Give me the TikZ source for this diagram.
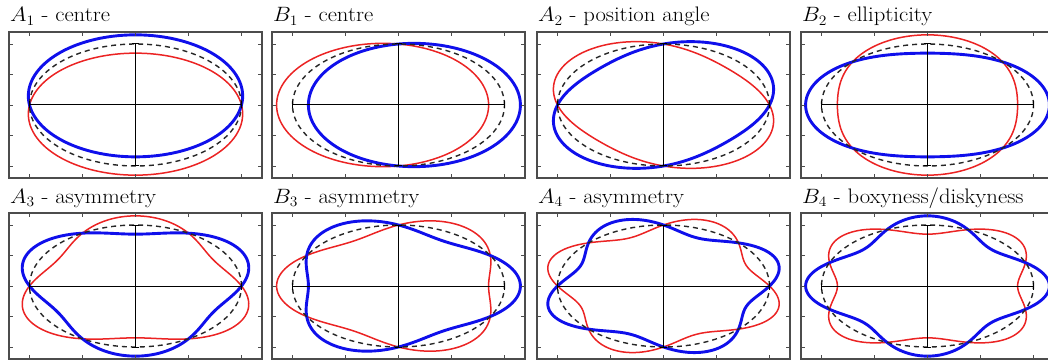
\documentclass[tikz,border=0pt]{standalone}
\usepackage{graphicx}
\definecolor{cred}{RGB}{235,35,35}
\definecolor{cblue}{RGB}{15,15,235}
\tikzset{
  frame/.style={draw=black!70, line width=1.1pt},
  tickmark/.style={draw=black!70, line width=0.9pt},
  axisline/.style={draw=black, line width=1pt},
  refline/.style={draw=black!85, line width=1.4pt, dash pattern=on 5pt off 4pt},
  bluecurve/.style={draw=cblue, line width=2.9pt, line join=round},
  redcurve/.style={draw=cred, line width=1.5pt, line join=round},
  paneltitle/.style={anchor=base west, inner sep=0pt}
}
\newcommand\ttl[1]{{\fontsize{21}{24}\selectfont\scalebox{1.08}[1]{#1}}}
\newcommand\isopanel[5]{%
  \begin{scope}[shift={(#1,#2)}]
    \draw[redcurve] plot[domain=0:360, samples=241, variable=\t]
      ({106*(1-0.15*(#5))*cos(\t)},{61*(1-0.15*(#5))*sin(\t)}) -- cycle;
    \draw[bluecurve] plot[domain=0:360, samples=241, variable=\t]
      ({106*(1+0.15*(#5))*cos(\t)},{61*(1+0.15*(#5))*sin(\t)}) -- cycle;
    \draw[refline] (0,0) ellipse [x radius=106, y radius=61];
    \draw[axisline] (-106,0) -- (106,0) (0,-61) -- (0,61)
      (-106,-3.5) -- (-106,3.5) (106,-3.5) -- (106,3.5)
      (-3.5,61) -- (3.5,61) (-3.5,-61) -- (3.5,-61);
    \draw[frame] (-126.5,-73) rectangle (126.5,73);
    \foreach \u in {-106,-53,0,53,106} {\draw[tickmark] (\u,-73) -- ++(0,4) (\u,73) -- ++(0,-4);}
    \foreach \v in {-61,-30.5,0,30.5,61} {\draw[tickmark] (-126.5,\v) -- ++(4,0) (126.5,\v) -- ++(-4,0);}
    \node[paneltitle] (#3) at (-125.5,83) {\ttl{#4}};
  \end{scope}}
\begin{document}
\begin{tikzpicture}[x=1pt,y=1pt]
  \useasboundingbox (0,0) rectangle (1048,359);
  \clip (0,0) rectangle (1048,359);
  \isopanel{135.5}{254}{tA1}{$A_1$ - centre}{sin(\t)}
  \isopanel{398.5}{254}{tB1}{$B_1$ - centre}{cos(\t)}
  \isopanel{663.5}{254}{tA2}{$A_2$ - position angle}{sin(2*\t)}
  \isopanel{927.5}{254}{tB2}{$B_2$ - ellipticity}{cos(2*\t)}
  \isopanel{135.5}{73}{tA3}{$A_3$ - asymmetry}{sin(3*\t)}
  \isopanel{398.5}{73}{tB3}{$B_3$ - asymmetry}{cos(3*\t)}
  \isopanel{663.5}{73}{tA4}{$A_4$ - asymmetry}{sin(4*\t)}
  \isopanel{927.5}{73}{tB4}{$B_4$ - boxyness/diskyness}{cos(4*\t)}
\end{tikzpicture}
\end{document}
